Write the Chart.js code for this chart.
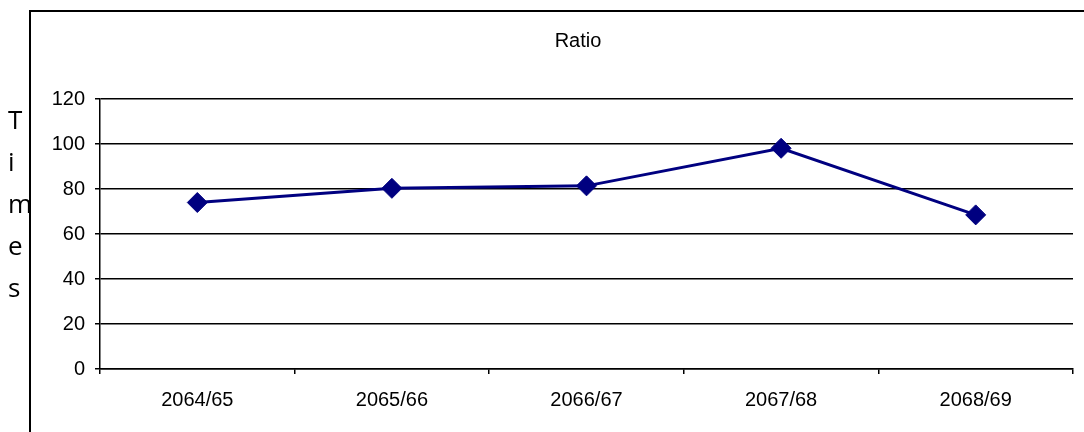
<!DOCTYPE html>
<html>
<head>
<meta charset="utf-8">
<script src="https://cdn.jsdelivr.net/npm/chart.js@4.4.1/dist/chart.umd.min.js"></script>
<style>
  html, body { margin: 0; padding: 0; background: #fff; }
  #wrap { width: 1084px; height: 432px; position: relative; }
</style>
</head>
<body>
<div id="wrap"><canvas id="c" width="1084" height="432"></canvas></div>
<script>
// Ratio by fiscal year
const categories = ['2064/65', '2065/66', '2066/67', '2067/68', '2068/69'];
const ratioValues = [74, 80.3, 81.4, 98.1, 68.5];
const yTicks = [0, 20, 40, 60, 80, 100, 120];
const chartTitle = 'Ratio';
const yAxisTitle = 'Times';

const tickFont = { family: '"Liberation Sans", Arial, sans-serif', size: 20 };

// Outer frame, the title and the vertically stacked axis title
const framePlugin = {
  id: 'frame',
  afterDraw(chart) {
    const ctx = chart.ctx;
    ctx.save();
    ctx.strokeStyle = '#000';
    ctx.lineWidth = 2;
    ctx.strokeRect(30, 11, 1200, 600);
    ctx.fillStyle = '#000';

    ctx.font = '20px "Liberation Sans", Arial, sans-serif';
    ctx.textAlign = 'center';
    ctx.textBaseline = 'middle';
    ctx.fillText(chartTitle, 578, 41);

    ctx.font = '26px "Open Sans", sans-serif';
    ctx.textAlign = 'left';
    ctx.textBaseline = 'alphabetic';
    yAxisTitle.split('').forEach((ch, i) => {
      ctx.fillText(ch, 8, 129 + i * 42);
    });
    ctx.restore();
  }
};

new Chart(document.getElementById('c'), {
  type: 'line',
  data: {
    labels: categories,
    datasets: [{
      data: ratioValues,
      borderColor: '#000080',
      backgroundColor: '#000080',
      borderWidth: 3,
      tension: 0,
      pointStyle: 'rectRot',
      pointRadius: 10,
      pointBorderWidth: 1,
      pointBackgroundColor: '#000080',
      pointBorderColor: '#000080',
      fill: false
    }]
  },
  options: {
    responsive: false,
    animation: false,
    layout: { padding: { left: 0, right: 8, top: 99, bottom: 0 } },
    plugins: {
      legend: { display: false },
      tooltip: { enabled: false },
      title: { display: false }
    },
    scales: {
      x: {
        offset: true,
        grid: {
          offset: true,
          drawOnChartArea: false,
          drawTicks: true,
          tickLength: 5,
          color: '#000',
          lineWidth: 1.5
        },
        border: { display: true, color: '#000', width: 1.5 },
        ticks: { color: '#000', font: tickFont, padding: 14, maxRotation: 0 },
        afterFit(scale) {
          scale.height = 63;
          scale.paddingLeft = 0;
          scale.paddingRight = 0;
        }
      },
      y: {
        min: 0,
        max: 120,
        afterBuildTicks(scale) { scale.ticks = yTicks.map(v => ({ value: v })); },
        grid: {
          color: '#000',
          lineWidth: 1.5,
          drawTicks: true,
          tickLength: 5
        },
        border: { display: true, color: '#000', width: 1.5 },
        ticks: { color: '#000', font: tickFont, padding: 10 },
        afterFit(scale) { scale.width = 100; }
      }
    }
  },
  plugins: [framePlugin]
});
</script>
</body>
</html>
